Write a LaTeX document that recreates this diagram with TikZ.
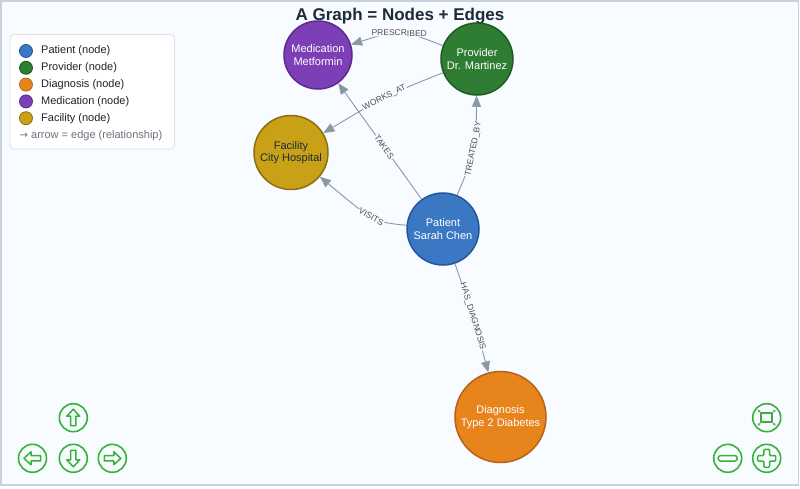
\documentclass[tikz,border=0pt]{standalone}
\usepackage{fontspec}
\setmainfont{Liberation Sans}
\newfontfamily\symfont{DejaVu Sans}
\usetikzlibrary{arrows.meta}
\definecolor{bg}{HTML}{F8FBFF}
\definecolor{frame}{HTML}{C9D2DC}
\definecolor{titlec}{HTML}{1C2B3A}
\definecolor{edgec}{HTML}{8A98A6}
\definecolor{elabel}{HTML}{4A4F55}
\definecolor{patf}{HTML}{3A78C4}\definecolor{patd}{HTML}{23579C}
\definecolor{provf}{HTML}{2E7D32}\definecolor{provd}{HTML}{1B5E20}
\definecolor{diagf}{HTML}{E8841C}\definecolor{diagd}{HTML}{B4641A}
\definecolor{medf}{HTML}{7D3FB6}\definecolor{medd}{HTML}{5A2A8C}
\definecolor{facf}{HTML}{C9A117}\definecolor{facd}{HTML}{8C6E12}
\definecolor{legb}{HTML}{DCE2E9}
\definecolor{legt}{HTML}{222222}
\definecolor{legg}{HTML}{6B7280}
\definecolor{btn}{HTML}{36B336}
\definecolor{fitg}{HTML}{8E8E8E}
\tikzset{
  gnode/.style={circle, line width=1.5pt, align=center, inner sep=0pt,
    font=\fontsize{11}{12.5}\selectfont, text=white},
  gedge/.style={draw=edgec, line width=0.9pt, -{Triangle[length=11pt,width=9pt]}},
  elab/.style={font=\fontsize{8.5}{9}\selectfont, text=elabel, fill=bg, inner sep=0.6pt, sloped},
  legdot/.style={circle, minimum size=13pt, inner sep=0pt, line width=0.8pt},
  legtxt/.style={anchor=west, font=\fontsize{11}{12}\selectfont, text=legt, inner sep=0pt},
  btnc/.style={circle, draw=btn, line width=1.6pt, minimum size=28pt, inner sep=0pt},
  icon/.style={draw=btn, line width=1.5pt, line join=round}
}
\begin{document}
\begin{tikzpicture}[x=1pt,y=-1pt]
\useasboundingbox (0,0) rectangle (800,488);
\fill[bg] (0.75,0.75) rectangle (798.6,485);
\draw[frame, line width=1.5pt] (0.75,0.75) rectangle (798.6,485);

% title
\node[font=\bfseries\fontsize{17}{18}\selectfont, text=titlec] (title) at (400,16) {A Graph = Nodes + Edges};

% legend
\draw[legb, fill=white, rounded corners=4pt, line width=0.8pt] (10,34.5) rectangle (174.5,149);
\node[legdot, fill=patf, draw=patd] (lp) at (26,51) {};
\node[legdot, fill=provf, draw=provd] (lr) at (26,67.8) {};
\node[legdot, fill=diagf, draw=diagd] (ld) at (26,84.6) {};
\node[legdot, fill=medf, draw=medd] (lm) at (26,101.4) {};
\node[legdot, fill=facf, draw=facd] (lf) at (26,118.2) {};
\node[legtxt] (tp) at (41,51) {Patient (node)};
\node[legtxt] (tr) at (41,67.8) {Provider (node)};
\node[legtxt] (td) at (41,84.6) {Diagnosis (node)};
\node[legtxt] (tm) at (41,101.4) {Medication (node)};
\node[legtxt] (tf) at (41,118.2) {Facility (node)};
\node[legtxt, text=legg] (ta) at (19.5,135.5) {{\symfont\fontsize{10}{12}\selectfont →} arrow = edge (relationship)};

% graph nodes
\node[gnode, fill=medf, draw=medd, minimum size=68pt] (med) at (318,55) {Medication\\Metformin};
\node[gnode, fill=provf, draw=provd, minimum size=72pt] (prov) at (477,59) {Provider\\Dr. Martinez};
\node[gnode, fill=facf, draw=facd, minimum size=74pt, text=titlec] (fac) at (291,152.5) {Facility\\City Hospital};
\node[gnode, fill=patf, draw=patd, minimum size=72pt] (pat) at (443,229) {Patient\\Sarah Chen};
\node[gnode, fill=diagf, draw=diagd, minimum size=91pt] (diag) at (500.5,417) {Diagnosis\\Type 2 Diabetes};

% edges
\draw[gedge] (prov) .. controls (400,29) .. (med) node[elab, pos=0.5] (lpres) {PRESCRIBED};
\draw[gedge] (prov) .. controls (385,96) .. (fac) node[elab, pos=0.5] (lwork) {WORKS\_AT};
\draw[gedge] (pat) -- (med) node[elab, pos=0.45] (ltake) {TAKES};
\draw[gedge] (pat) .. controls (374,222) .. (fac) node[elab, pos=0.5] (lvis) {VISITS};
\draw[gedge] (pat) .. controls (476,150) .. (prov) node[elab, pos=0.5] (ltreat) {TREATED\_BY};
\draw[gedge] (pat) .. controls (473,316) .. (diag) node[elab, pos=0.5] (lhas) {HAS\_DIAGNOSIS};

% navigation buttons
\node[btnc] (bup) at (73.3,417.7) {};
\node[btnc] (bleft) at (32.5,458.3) {};
\node[btnc] (bdown) at (73.3,458.3) {};
\node[btnc] (bright) at (112.3,458.3) {};
\node[btnc] (bfit) at (766.7,417.7) {};
\node[btnc] (bminus) at (727.7,458.3) {};
\node[btnc] (bplus) at (766.7,458.3) {};

\def\uparr{(0,-8.5) -- (6.5,-1.5) -- (2.6,-1.5) -- (2.6,8) -- (-2.6,8) -- (-2.6,-1.5) -- (-6.5,-1.5) -- cycle}
\draw[icon, shift={(bup.center)}] \uparr;
\draw[icon, shift={(bdown.center)}, rotate=180] \uparr;
\draw[icon, shift={(bleft.center)}, rotate=90] \uparr;
\draw[icon, shift={(bright.center)}, rotate=-90] \uparr;
\draw[icon, shift={(bminus.center)}, rounded corners=2.5pt] (-9.5,-2.8) rectangle (9.5,2.8);
\draw[icon, shift={(bplus.center)}, rounded corners=1pt] (-2.8,-9) -- (2.8,-9) -- (2.8,-2.8) -- (9,-2.8) -- (9,2.8) -- (2.8,2.8) -- (2.8,9) -- (-2.8,9) -- (-2.8,2.8) -- (-9,2.8) -- (-9,-2.8) -- (-2.8,-2.8) -- cycle;
\draw[icon, shift={(bfit.center)}] (-5.5,-4.5) rectangle (5.5,4.5);
\begin{scope}[shift={(bfit.center)}, fitg, line width=0.8pt, -{Triangle[length=2.5pt,width=2.5pt]}]
\draw (-6,-5) -- (-9,-8);
\draw (6,-5) -- (9,-8);
\draw (-6,5) -- (-9,8);
\draw (6,5) -- (9,8);
\end{scope}
\end{tikzpicture}
\end{document}
